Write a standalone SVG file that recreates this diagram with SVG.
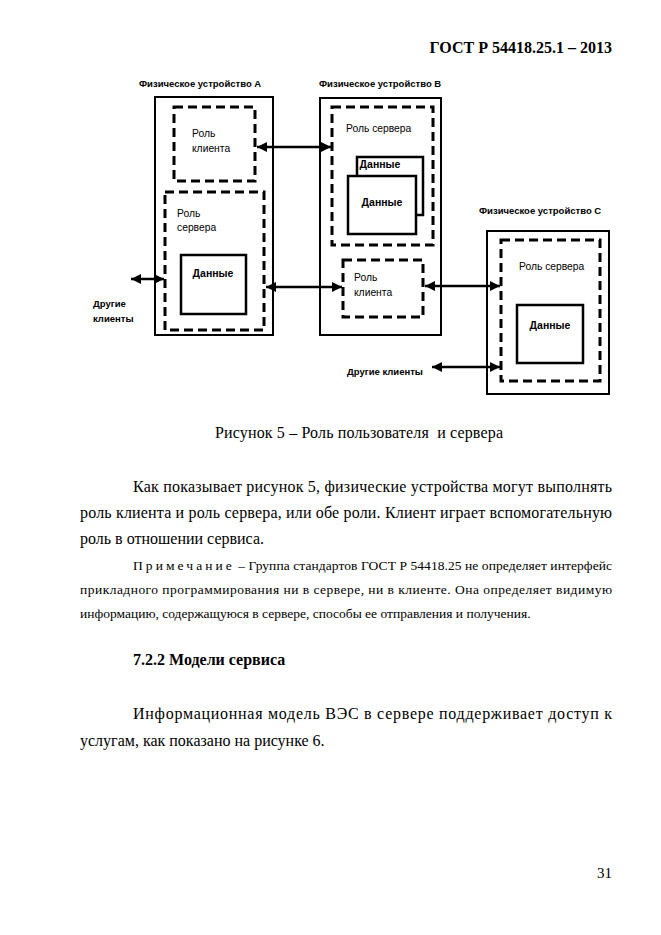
<svg xmlns="http://www.w3.org/2000/svg" width="661" height="935" viewBox="0 0 661 935">
<style>
.dev{fill:none;stroke:#000;stroke-width:2}
.role{fill:none;stroke:#000;stroke-width:3;stroke-dasharray:9 5}
.data{fill:#fff;stroke:#000;stroke-width:2.5}
.lbl{font-family:"Liberation Sans",Arial,sans-serif;font-size:10.3px;fill:#000}
.ttl{font-family:"Liberation Sans",Arial,sans-serif;font-size:9.5px;font-weight:bold;fill:#000}
.dat{font-family:"Liberation Sans",Arial,sans-serif;font-size:10.5px;font-weight:bold;fill:#000;text-anchor:middle}
.conn{stroke:#000;stroke-width:2.5;fill:none;marker-start:url(#ah);marker-end:url(#ah)}
.t{font-family:"Liberation Serif","Times New Roman",serif;fill:#000}
.b{font-size:16px}
.n{font-size:13.5px}
</style>
<defs>
<marker id="ah" viewBox="0 0 10 10" refX="10" refY="5" markerWidth="4" markerHeight="4" orient="auto-start-reverse" markerUnits="strokeWidth">
<path d="M0,0 L10,5 L0,10 z" fill="#000"/>
</marker>
</defs>
<text class="t" x="612" y="53" font-size="16" font-weight="bold" text-anchor="end">ГОСТ Р 54418.25.1 – 2013</text>

<g id="deviceA">
<text class="ttl" x="139" y="87">Физическое устройство А</text>
<rect class="dev" x="155" y="97" width="118" height="238"/>
</g>
<g id="clientA">
<rect class="role" x="174" y="107" width="81" height="74"/>
<text class="lbl" x="192" y="137">Роль</text>
<text class="lbl" x="192" y="152">клиента</text>
</g>
<g id="serverA">
<rect class="role" x="165" y="192" width="99" height="138"/>
<text class="lbl" x="177" y="217">Роль</text>
<text class="lbl" x="177" y="231">сервера</text>
</g>
<g id="dataA">
<rect class="data" x="181" y="255" width="65" height="59"/>
<text class="dat" x="213" y="277">Данные</text>
</g>

<g id="deviceB">
<text class="ttl" x="319" y="87">Физическое устройство В</text>
<rect class="dev" x="320" y="98" width="121" height="237"/>
</g>
<g id="serverB">
<rect class="role" x="332" y="107" width="101" height="138"/>
<text class="lbl" x="346" y="132">Роль сервера</text>
</g>
<g id="dataB2">
<rect class="data" x="357" y="157" width="66" height="58"/>
<text class="dat" x="380" y="168">Данные</text>
</g>
<g id="dataB1">
<rect class="data" x="348" y="176" width="68" height="58"/>
<text class="dat" x="382" y="206">Данные</text>
</g>
<g id="clientB">
<rect class="role" x="343" y="260" width="80" height="57"/>
<text class="lbl" x="354" y="281">Роль</text>
<text class="lbl" x="354" y="296">клиента</text>
</g>

<g id="deviceC">
<text class="ttl" x="479" y="214">Физическое устройство С</text>
<rect class="dev" x="487" y="231" width="122" height="163"/>
</g>
<g id="serverC">
<rect class="role" x="501" y="240" width="99" height="141"/>
<text class="lbl" x="519" y="270">Роль сервера</text>
</g>
<g id="dataC">
<rect class="data" x="517" y="305" width="66" height="58"/>
<text class="dat" x="550" y="329">Данные</text>
</g>

<g id="othersA">
<text class="ttl" x="93" y="307">Другие</text>
<text class="ttl" x="93" y="322">клиенты</text>
</g>
<g id="othersC">
<text class="ttl" x="347" y="375">Другие клиенты</text>
</g>

<g id="connectors">
<line class="conn" x1="257" y1="147" x2="331" y2="147"/>
<line class="conn" x1="266" y1="287" x2="342" y2="287"/>
<line class="conn" x1="425" y1="286" x2="500" y2="286"/>
<line class="conn" x1="131" y1="279" x2="164" y2="279"/>
<line class="conn" x1="432" y1="367" x2="500" y2="367"/>
</g>

<text class="t" x="215" y="438" font-size="16" textLength="288" lengthAdjust="spacing" xml:space="preserve">Рисунок 5 – Роль пользователя  и сервера</text>

<text class="t b" x="133" y="492" textLength="479" lengthAdjust="spacing">Как показывает рисунок 5, физические устройства могут выполнять</text>
<text class="t b" x="80" y="518" textLength="532" lengthAdjust="spacing">роль клиента и роль сервера, или обе роли. Клиент играет вспомогательную</text>
<text class="t b" x="80" y="544">роль в отношении сервиса.</text>
<text class="t n" x="133" y="570" textLength="479" lengthAdjust="spacing"><tspan letter-spacing="3">Примечание</tspan> – Группа стандартов ГОСТ Р 54418.25 не определяет интерфейс</text>
<text class="t n" x="80" y="594" textLength="532" lengthAdjust="spacing">прикладного программирования ни в сервере, ни в клиенте. Она определяет видимую</text>
<text class="t n" x="80" y="618">информацию, содержащуюся в сервере, способы ее отправления и получения.</text>
<text class="t b" x="133" y="665" font-weight="bold">7.2.2 Модели сервиса</text>
<text class="t b" x="133" y="719" textLength="479" lengthAdjust="spacing">Информационная модель ВЭС в сервере поддерживает доступ к</text>
<text class="t b" x="80" y="746">услугам, как показано на рисунке 6.</text>
<text class="t" x="612" y="878" font-size="15" text-anchor="end">31</text>
</svg>
